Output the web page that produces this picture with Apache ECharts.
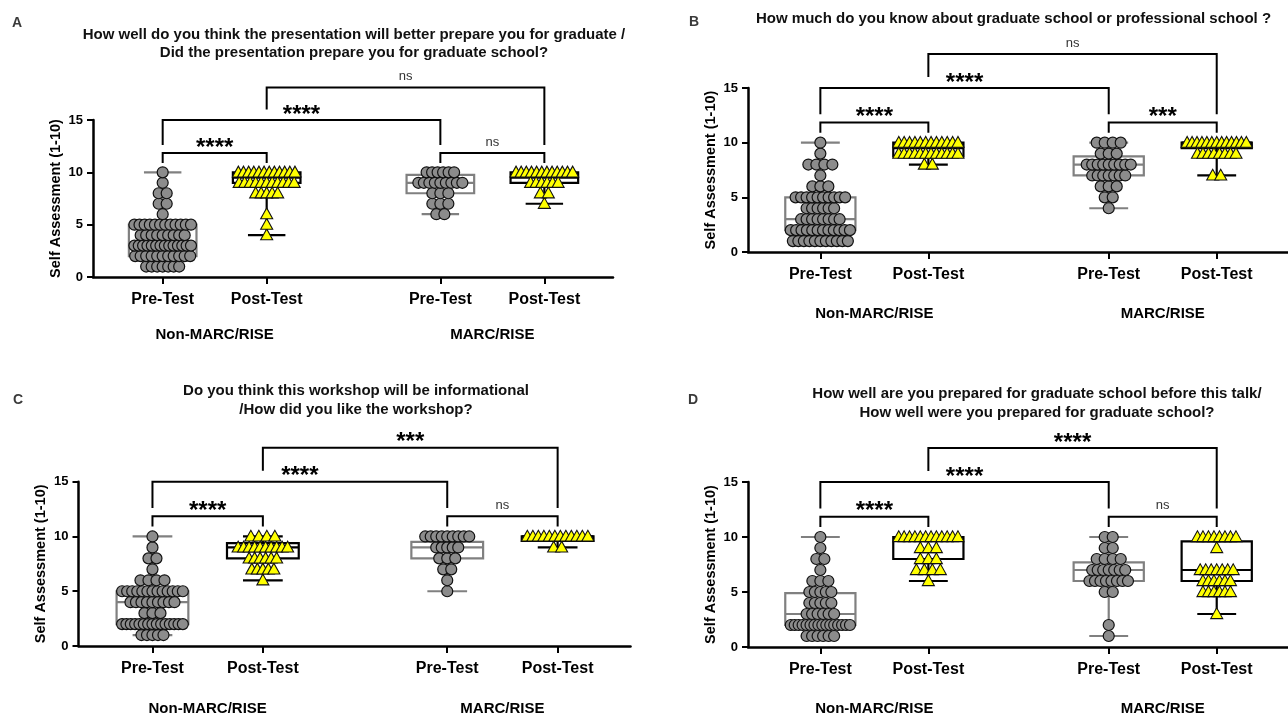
<!DOCTYPE html>
<html><head><meta charset="utf-8">
<script src="https://cdn.jsdelivr.net/npm/echarts@6/dist/echarts.min.js"></script>
<style>html,body{margin:0;padding:0;background:#fff}#c{width:1288px;height:716px}</style>
</head><body><div id="c"></div>
<script>
// ---------------- DATA ----------------
const scores = [1,2,3,4,5,6,7,8,9,10];
const groupX = [1, 2, 3.67, 4.67];
const tickLabels = ['Pre-Test','Post-Test','Pre-Test','Post-Test'];
const groupNames = ['Non-MARC/RISE','MARC/RISE'];
const groupNameX = [1.5, 4.17];
const yTicks = [0,5,10,15];
const panelLetters = ['A','B','C','D'];
const titleA = 'How well do you think the presentation will better prepare you for graduate /\nDid the presentation prepare you for graduate school?';
const titleB = 'How much do you know about graduate school or professional school ?';
const titleC = 'Do you think this workshop will be informational\n/How did you like the workshop?';
const titleD = 'How well are you prepared for graduate school before this talk/\nHow well were you prepared for graduate school?';
const yName = 'Self Assessment (1-10)';

// number of responses at each score 1..10
const aPre1  = [7,11,14,9,12,1,2,2,1,1];
const aPost1 = [0,0,0,1,1,1,0,5,11,12];
const aPre2  = [0,0,0,0,0,2,3,3,9,6];
const aPost2 = [0,0,0,0,0,0,1,2,6,12];
const bPre1  = [11,12,8,6,10,3,1,4,1,1];
const bPost1 = [0,0,0,0,0,0,0,2,12,12];
const bPre2  = [0,0,0,1,2,3,7,9,3,4];
const bPost2 = [0,0,0,0,0,0,2,0,8,13];
const cPre1  = [5,15,3,9,13,4,1,2,1,1];
const cPost1 = [0,0,0,0,0,1,5,6,10,4];
const cPre2  = [0,0,0,0,1,1,2,3,5,9];
const cPost2 = [0,0,0,0,0,0,0,0,2,12];
const dPre1  = [6,16,6,5,5,3,1,2,1,1];
const dPost1 = [0,0,0,0,0,1,4,3,3,12];
const dPre2  = [1,1,0,0,2,8,7,4,2,2];
const dPost2 = [0,0,1,0,6,6,7,0,1,8];

// box plots: [min, Q1, median, Q3, max] for Pre1, Post1, Pre2, Post2
const aBox = [[1,2,3,5,10],[4,9,9.5,10,10],[6,8,9,9.75,10],[7,9,9.5,10,10]];
const bBox = [[1,2,3,5,10],[8,8.75,9.5,10,10],[4,7,8,8.75,10],[7,9.5,10,10,10]];
const cBox = [[1,2,4,5,10],[6,8,9,9.4,10],[5,8,9,9.5,10],[9,9.6,10,10,10]];
const dBox = [[1,2,3,4.9,10],[6,8,10,10,10],[1,6,7,7.7,10],[3,6,7,9.6,10]];

// significance labels: Pre1-Post1, Pre1-Pre2, Post1-Post2, Pre2-Post2
const aSig = ['****','****','ns','ns'];
const bSig = ['****','****','ns','***'];
const cSig = ['****','****','***','ns'];
const dSig = ['****','****','****','ns'];

// ---------------- LAYOUT ----------------
// bracket: [fromGroup, toGroup, yLine, yLegFrom, yLegTo]
const bracketLayout = [[0,1,11.85,10.9,10.9],[0,2,15,12.6,12.6],[1,3,18.1,16,12.6],[2,3,11.85,10.9,10.9]];
const BOX_W = 0.65, CAP_W = 0.36;
const FONT = '"Liberation Sans", Arial, sans-serif';

const panels = [
  {grid:{left:93, top:120, width:520, height:157}, counts:[aPre1,aPost1,aPre2,aPost2], box:aBox, sig:aSig, gm:50},
  {grid:{left:748, top:88, width:550, height:164}, counts:[bPre1,bPost1,bPre2,bPost2], box:bBox, sig:bSig, gm:54},
  {grid:{left:78.5, top:481.7, width:552, height:165}, counts:[cPre1,cPost1,cPre2,cPost2], box:cBox, sig:cSig, gm:55},
  {grid:{left:748, top:482, width:550, height:165}, counts:[dPre1,dPost1,dPre2,dPost2], box:dBox, sig:dSig, gm:54}
];

function idxOf(arr, v){ for (let j=0;j<arr.length;j++) if (Math.abs(arr[j]-v)<1e-6) return j; return -1; }

function renderBox(params, api){
  const x=api.value(0), mn=api.value(1), q1=api.value(2), md=api.value(3), q3=api.value(4), mx=api.value(5), post=api.value(6);
  const col = post ? '#000' : '#808080';
  const bw = api.size([BOX_W,0])[0], cw = api.size([CAP_W,0])[0];
  const cx = api.coord([x,0])[0];
  const Y = v => api.coord([x,v])[1];
  const lw = 2.2;
  const ls = {stroke:col, lineWidth:lw};
  const ch = [];
  ch.push({type:'line', shape:{x1:cx,y1:Y(q1),x2:cx,y2:Y(mn)}, style:ls});
  ch.push({type:'line', shape:{x1:cx,y1:Y(q3),x2:cx,y2:Y(mx)}, style:ls});
  ch.push({type:'line', shape:{x1:cx-cw/2,y1:Y(mn),x2:cx+cw/2,y2:Y(mn)}, style:ls});
  ch.push({type:'line', shape:{x1:cx-cw/2,y1:Y(mx),x2:cx+cw/2,y2:Y(mx)}, style:ls});
  ch.push({type:'rect', shape:{x:cx-bw/2, y:Y(q3), width:bw, height:Y(q1)-Y(q3)}, style:{fill:'#fff', stroke:col, lineWidth:lw}});
  ch.push({type:'line', shape:{x1:cx-bw/2,y1:Y(md),x2:cx+bw/2,y2:Y(md)}, style:ls});
  return {type:'group', children:ch};
}

function renderDot(params, api){
  const x=api.value(0), y=api.value(1), k=api.value(2), n=api.value(3), post=api.value(4);
  const c = api.coord([x,y]);
  const bw = api.size([BOX_W,0])[0];
  const size = 11;
  const s = n<=4 ? 8 : 5.5;
  const span = Math.min((n-1)*s, bw - size);
  const dx = n>1 ? -span/2 + k*span/(n-1) : 0;
  const cx = c[0]+dx, cy = c[1];
  if (!post) return {type:'circle', shape:{cx:cx, cy:cy, r:size/2}, style:{fill:'#8c8c8c', stroke:'#111', lineWidth:1.2}};
  return {type:'polygon', shape:{points:[[cx,cy-6.2],[cx-6,cy+4.6],[cx+6,cy+4.6]]}, style:{fill:'#ffff00', stroke:'#111', lineWidth:1.1}};
}

function makeBracketRenderer(sig){
  return function(params, api){
    const x1=api.value(0), x2=api.value(1), yl=api.value(2), ya=api.value(3), yb=api.value(4);
    const p1=api.coord([x1,ya]), p2=api.coord([x1,yl]), p3=api.coord([x2,yl]), p4=api.coord([x2,yb]);
    const label = sig[params.dataIndex];
    const isNs = label === 'ns';
    return {type:'group', children:[
      {type:'polyline', shape:{points:[p1,p2,p3,p4]}, style:{stroke:'#000', lineWidth:2, fill:null}},
      {type:'text', x:(p2[0]+p3[0])/2, y: isNs ? p2[1]-11 : p2[1]-5,
       style:{text:label, textAlign:'center', textVerticalAlign:'middle',
              font: isNs ? ('13px '+FONT) : ('bold 24px '+FONT), fill: isNs ? '#333' : '#000'}}
    ]};
  };
}

const grids=[], xAxes=[], yAxes=[], series=[];
panels.forEach((p,i)=>{
  grids.push(Object.assign({containLabel:false}, p.grid));
  xAxes.push({gridIndex:i, type:'value', min:0.33, max:5.33, position:'bottom',
    axisLine:{show:true, onZero:false, lineStyle:{color:'#000', width:2.5}},
    axisTick:{show:true, customValues:groupX, length:7, lineStyle:{color:'#000', width:2}},
    axisLabel:{show:true, customValues:groupX, formatter:v=>tickLabels[idxOf(groupX,v)]||'', margin:15,
      fontSize:16, fontWeight:'bold', color:'#000', fontFamily:FONT},
    splitLine:{show:false}});
  xAxes.push({gridIndex:i, type:'value', min:0.33, max:5.33, position:'bottom',
    axisLine:{show:false}, axisTick:{show:false},
    axisLabel:{show:true, customValues:groupNameX, formatter:v=>groupNames[idxOf(groupNameX,v)]||'', margin:p.gm,
      fontSize:15, fontWeight:'bold', color:'#000', fontFamily:FONT},
    splitLine:{show:false}});
  yAxes.push({gridIndex:i, type:'value', min:0, max:15, interval:5,
    axisLine:{show:true, onZero:false, lineStyle:{color:'#000', width:2.5}},
    axisTick:{show:true, length:6, lineStyle:{color:'#000', width:2}},
    axisLabel:{margin:10, fontSize:13, fontWeight:'bold', color:'#000', fontFamily:FONT},
    splitLine:{show:false},
    name:yName, nameLocation:'middle', nameGap:30, nameRotate:90,
    nameTextStyle:{fontSize:14.5, fontWeight:'bold', color:'#000', fontFamily:FONT}});
  const boxData = p.box.map((b,g)=>[groupX[g], b[0], b[1], b[2], b[3], b[4], g%2]);
  series.push({type:'custom', xAxisIndex:2*i, yAxisIndex:i, z:2, renderItem:renderBox,
    encode:{x:0, y:[1,2,3,4,5]}, data:boxData, silent:true});
  const dots=[];
  p.counts.forEach((c,g)=>{ scores.forEach((s,si)=>{ for(let k=0;k<c[si];k++) dots.push([groupX[g], s, k, c[si], g%2]); }); });
  series.push({type:'custom', xAxisIndex:2*i, yAxisIndex:i, z:3, renderItem:renderDot,
    encode:{x:0, y:1}, data:dots, silent:true});
  const br = bracketLayout.map(b=>[groupX[b[0]], groupX[b[1]], b[2], b[3], b[4]]);
  series.push({type:'custom', xAxisIndex:2*i, yAxisIndex:i, z:4, clip:false, renderItem:makeBracketRenderer(p.sig),
    encode:{x:[0,1], y:[2,3,4]}, data:br, silent:true});
});

const tFont = 'bold 15px '+FONT;
const graphic = [
  {type:'text', x:17, y:23, style:{text:panelLetters[0], font:'bold 14px '+FONT, fill:'#3a3a3a', textAlign:'center', textVerticalAlign:'middle'}},
  {type:'text', x:694, y:22, style:{text:panelLetters[1], font:'bold 14px '+FONT, fill:'#3a3a3a', textAlign:'center', textVerticalAlign:'middle'}},
  {type:'text', x:18, y:400, style:{text:panelLetters[2], font:'bold 14px '+FONT, fill:'#3a3a3a', textAlign:'center', textVerticalAlign:'middle'}},
  {type:'text', x:693, y:400, style:{text:panelLetters[3], font:'bold 14px '+FONT, fill:'#3a3a3a', textAlign:'center', textVerticalAlign:'middle'}},
  {type:'text', x:354, y:44, style:{text:titleA, font:tFont, lineHeight:18, fill:'#111', textAlign:'center', textVerticalAlign:'middle'}},
  {type:'text', x:756, y:19, style:{text:titleB, font:tFont, fill:'#111', textAlign:'left', textVerticalAlign:'middle'}},
  {type:'text', x:356, y:400.5, style:{text:titleC, font:tFont, lineHeight:19, fill:'#111', textAlign:'center', textVerticalAlign:'middle'}},
  {type:'text', x:1037, y:403.5, style:{text:titleD, font:tFont, lineHeight:19, fill:'#111', textAlign:'center', textVerticalAlign:'middle'}}
];

const chart = echarts.init(document.getElementById('c'));
chart.setOption({animation:false, backgroundColor:'#fff', grid:grids, xAxis:xAxes, yAxis:yAxes, series:series, graphic:graphic});
</script></body></html>
